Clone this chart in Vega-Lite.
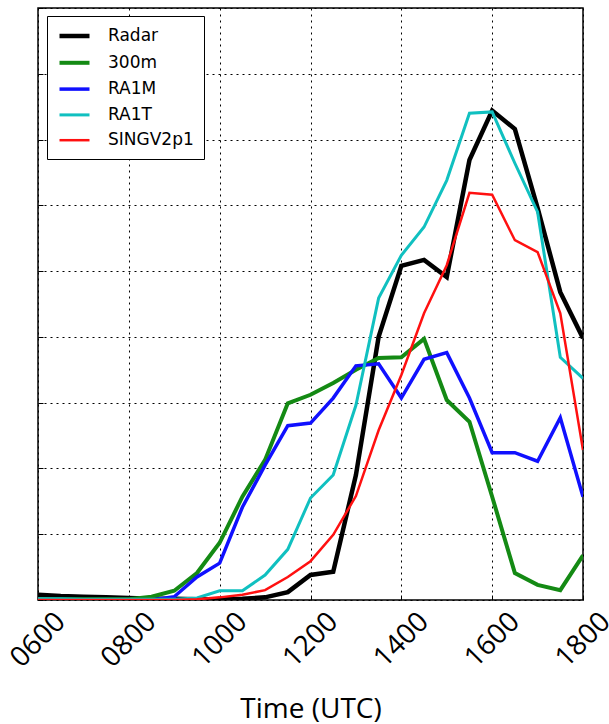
{
  "$schema": "https://vega.github.io/schema/vega-lite/v6.json",
  "width": 545,
  "height": 592,
  "autosize": "none",
  "padding": {"left": 38, "top": 8, "right": 26, "bottom": 124},
  "background": "white",
  "config": {"view": {"stroke": "black", "strokeWidth": 1.5}, "font": "DejaVu Sans"},
  "data": {"values": [
    {"t": 6.0, "Radar": 0.08, "300m": 0.01, "RA1M": 0.0, "RA1T": 0.02, "SINGV2p1": 0.0},
    {"t": 6.5, "Radar": 0.06, "300m": 0.01, "RA1M": 0.0, "RA1T": 0.02, "SINGV2p1": 0.0},
    {"t": 7.0, "Radar": 0.05, "300m": 0.01, "RA1M": 0.0, "RA1T": 0.01, "SINGV2p1": 0.0},
    {"t": 7.5, "Radar": 0.04, "300m": 0.01, "RA1M": 0.0, "RA1T": 0.01, "SINGV2p1": 0.0},
    {"t": 8.0, "Radar": 0.03, "300m": 0.01, "RA1M": 0.0, "RA1T": 0.01, "SINGV2p1": 0.0},
    {"t": 8.5, "Radar": 0.02, "300m": 0.05, "RA1M": 0.0, "RA1T": 0.01, "SINGV2p1": 0.0},
    {"t": 9.0, "Radar": 0.02, "300m": 0.14, "RA1M": 0.05, "RA1T": 0.01, "SINGV2p1": 0.0},
    {"t": 9.5, "Radar": 0.01, "300m": 0.41, "RA1M": 0.35, "RA1T": 0.03, "SINGV2p1": 0.01},
    {"t": 10.0, "Radar": 0.01, "300m": 0.87, "RA1M": 0.56, "RA1T": 0.14, "SINGV2p1": 0.04},
    {"t": 10.5, "Radar": 0.02, "300m": 1.57, "RA1M": 1.41, "RA1T": 0.14, "SINGV2p1": 0.08},
    {"t": 11.0, "Radar": 0.04, "300m": 2.13, "RA1M": 2.05, "RA1T": 0.38, "SINGV2p1": 0.15},
    {"t": 11.5, "Radar": 0.12, "300m": 2.99, "RA1M": 2.65, "RA1T": 0.77, "SINGV2p1": 0.35},
    {"t": 12.0, "Radar": 0.38, "300m": 3.12, "RA1M": 2.69, "RA1T": 1.55, "SINGV2p1": 0.59},
    {"t": 12.5, "Radar": 0.43, "300m": 3.3, "RA1M": 3.07, "RA1T": 1.9, "SINGV2p1": 0.99},
    {"t": 13.0, "Radar": 1.9, "300m": 3.5, "RA1M": 3.56, "RA1T": 2.96, "SINGV2p1": 1.58},
    {"t": 13.5, "Radar": 4.0, "300m": 3.68, "RA1M": 3.59, "RA1T": 4.59, "SINGV2p1": 2.58},
    {"t": 14.0, "Radar": 5.08, "300m": 3.69, "RA1M": 3.07, "RA1T": 5.24, "SINGV2p1": 3.42},
    {"t": 14.5, "Radar": 5.17, "300m": 3.97, "RA1M": 3.66, "RA1T": 5.67, "SINGV2p1": 4.36},
    {"t": 15.0, "Radar": 4.91, "300m": 3.04, "RA1M": 3.76, "RA1T": 6.38, "SINGV2p1": 5.09},
    {"t": 15.5, "Radar": 6.69, "300m": 2.71, "RA1M": 3.07, "RA1T": 7.4, "SINGV2p1": 6.19},
    {"t": 16.0, "Radar": 7.44, "300m": 1.57, "RA1M": 2.24, "RA1T": 7.42, "SINGV2p1": 6.16},
    {"t": 16.5, "Radar": 7.16, "300m": 0.41, "RA1M": 2.24, "RA1T": 6.64, "SINGV2p1": 5.47},
    {"t": 17.0, "Radar": 5.96, "300m": 0.23, "RA1M": 2.11, "RA1T": 5.9, "SINGV2p1": 5.29},
    {"t": 17.5, "Radar": 4.68, "300m": 0.15, "RA1M": 2.77, "RA1T": 3.69, "SINGV2p1": 4.36},
    {"t": 18.0, "Radar": 3.98, "300m": 0.68, "RA1M": 1.57, "RA1T": 3.37, "SINGV2p1": 2.28}
  ]},
  "transform": [{"fold": ["Radar", "300m", "RA1M", "RA1T", "SINGV2p1"], "as": ["series", "v"]}],
  "mark": {"type": "line", "clip": true},
  "encoding": {
    "x": {
      "field": "t", "type": "quantitative",
      "scale": {"domain": [6, 18], "nice": false, "zero": false},
      "axis": {
        "values": [6, 8, 10, 12, 14, 16, 18],
        "labelExpr": "datum.value < 10 ? '0' + datum.value + '00' : datum.value + '00'",
        "labelAngle": -45, "labelAlign": "center", "labelBaseline": "middle",
        "labelPadding": 45, "labelFont": "Open Sans", "labelFontSize": 28, "labelColor": "black",
        "labelOverlap": false, "labelFlush": false, "labelBound": false,
        "title": "Time (UTC)", "titleFont": "Open Sans", "titleFontSize": 28, "titleFontWeight": "normal",
        "titleColor": "black", "titleY": 117, "titleBaseline": "alphabetic",
        "grid": true, "gridColor": "black", "gridDash": [2, 4], "gridOpacity": 1, "gridWidth": 1,
        "domain": false, "ticks": true, "tickColor": "black", "tickSize": -5, "tickWidth": 1
      }
    },
    "y": {
      "field": "v", "type": "quantitative",
      "scale": {"domain": [0, 9], "nice": false},
      "axis": {
        "values": [0, 1, 2, 3, 4, 5, 6, 7, 8, 9],
        "labels": false, "title": null,
        "grid": true, "gridColor": "black", "gridDash": [2, 4], "gridOpacity": 1, "gridWidth": 1,
        "domain": false, "ticks": true, "tickColor": "black", "tickSize": -5, "tickWidth": 1
      }
    },
    "color": {
      "field": "series", "type": "nominal",
      "scale": {"domain": ["Radar", "300m", "RA1M", "RA1T", "SINGV2p1"], "range": ["#000000", "#148a14", "#1010ff", "#10c0c0", "#ff1010"]},
      "legend": {
        "title": null, "orient": "none", "legendX": 9, "legendY": 8,
        "padding": 10, "strokeColor": "black", "fillColor": "white", "cornerRadius": 0,
        "symbolType": "M-1,0H3", "symbolSize": 225,
        "labelFont": "DejaVu Sans", "labelFontSize": 17, "labelColor": "black", "labelOffset": 31,
        "rowPadding": 8.3
      }
    },
    "strokeWidth": {
      "field": "series", "type": "nominal",
      "scale": {"domain": ["Radar", "300m", "RA1M", "RA1T", "SINGV2p1"], "range": [4.5, 2.5, 2.5, 2.5, 2.5]},
      "legend": {
        "title": null, "orient": "none", "legendX": 9, "legendY": 8,
        "padding": 10, "strokeColor": "black", "fillColor": "white", "cornerRadius": 0,
        "symbolType": "M-1,0H3", "symbolSize": 225,
        "labelFont": "DejaVu Sans", "labelFontSize": 17, "labelColor": "black", "labelOffset": 31,
        "rowPadding": 8.3
      }
    }
  }
}
